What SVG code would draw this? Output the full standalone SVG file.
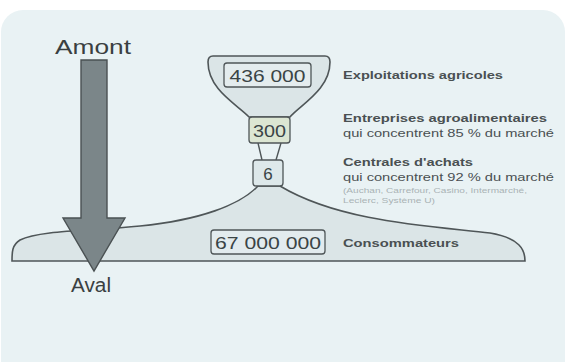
<svg xmlns="http://www.w3.org/2000/svg" width="566" height="362" viewBox="0 0 566 362">
<style>
.num{font-family:"Liberation Sans",Arial,sans-serif;font-size:17px;fill:#3a4446;text-anchor:middle}
.lb{font-family:"Liberation Sans",Arial,sans-serif;font-size:11px;font-weight:bold;fill:#4a5052}
.sub{font-family:"Liberation Sans",Arial,sans-serif;font-size:11px;fill:#4a5052}
.sm{font-family:"Liberation Sans",Arial,sans-serif;font-size:8px;fill:#a9b2b5}
.big{font-family:"Liberation Sans",Arial,sans-serif;font-size:20px;fill:#3a3f41}
.shape{fill:#dbe5e7;stroke:#4f5658;stroke-width:1.6}
.box{stroke:#4f5658;stroke-width:1.3}
.line{fill:none;stroke:#4f5658;stroke-width:1.4}
</style>
<rect x="0" y="0" width="566" height="362" fill="#ffffff"/>
<rect x="1" y="10" width="564" height="380" rx="22" fill="#e9f2f4"/>

<g id="consommateurs">
<path class="shape" d="M258,186 C240,205 200,220 140,226 C90,231 40,230 20,240 C12,245 12,252 12,261 L525,261 C525,250 520,238 490,233 C430,226 340,222 280,186 Z"/>
<rect class="box" x="211" y="230" width="114" height="24" rx="3" fill="#e2ebee"/>
<text class="num" x="268" y="249" textLength="106" lengthAdjust="spacingAndGlyphs">67 000 000</text>
<text class="lb" x="343" y="247" textLength="116" lengthAdjust="spacingAndGlyphs">Consommateurs</text>
</g>

<g id="exploitations">
<path class="shape" d="M213,56 L325,56 Q330,56 330,62 C330,90 300,105 290,117 L249,117 C238,105 208,90 208,62 Q208,56 213,56 Z"/>
<rect class="box" x="224" y="63" width="87" height="24" rx="3" fill="#e4ecee"/>
<text class="num" x="267.5" y="82" textLength="76" lengthAdjust="spacingAndGlyphs">436 000</text>
<text class="lb" x="343" y="79" textLength="160" lengthAdjust="spacingAndGlyphs">Exploitations agricoles</text>
</g>

<g id="connectors">
<path class="line" d="M258,143 L262,160"/>
<path class="line" d="M281,143 L276,160"/>
</g>

<g id="entreprises">
<rect class="box" x="249" y="117" width="41" height="26" rx="3" fill="#dce6d3"/>
<text class="num" x="269.5" y="137" fill="#52604a" textLength="33" lengthAdjust="spacingAndGlyphs">300</text>
<text class="lb" x="343" y="122" textLength="204" lengthAdjust="spacingAndGlyphs">Entreprises agroalimentaires</text>
<text class="sub" x="343" y="137" textLength="211" lengthAdjust="spacingAndGlyphs">qui concentrent 85 % du marché</text>
</g>

<g id="centrales">
<rect class="box" x="253" y="160" width="30" height="26" rx="3" fill="#dde8ea"/>
<text class="num" x="268" y="180" fill="#4d6466">6</text>
<text class="lb" x="343" y="166" textLength="130" lengthAdjust="spacingAndGlyphs">Centrales d'achats</text>
<text class="sub" x="343" y="181" textLength="211" lengthAdjust="spacingAndGlyphs">qui concentrent 92 % du marché</text>
<text class="sm" x="343" y="193" textLength="184" lengthAdjust="spacingAndGlyphs">(Auchan, Carrefour, Casino, Intermarché,</text>
<text class="sm" x="343" y="203" textLength="92" lengthAdjust="spacingAndGlyphs">Leclerc, Système U)</text>
</g>

<g id="fleche">
<path d="M81,60 L107,60 L107,218 L125,218 L94,271 L63,218 L81,218 Z" fill="#7b8689" stroke="#4a5153" stroke-width="1.4"/>
<text class="big" x="93" y="54" text-anchor="middle" textLength="76" lengthAdjust="spacingAndGlyphs">Amont</text>
<text class="big" x="91" y="292" text-anchor="middle" textLength="40" lengthAdjust="spacingAndGlyphs">Aval</text>
</g>
</svg>
